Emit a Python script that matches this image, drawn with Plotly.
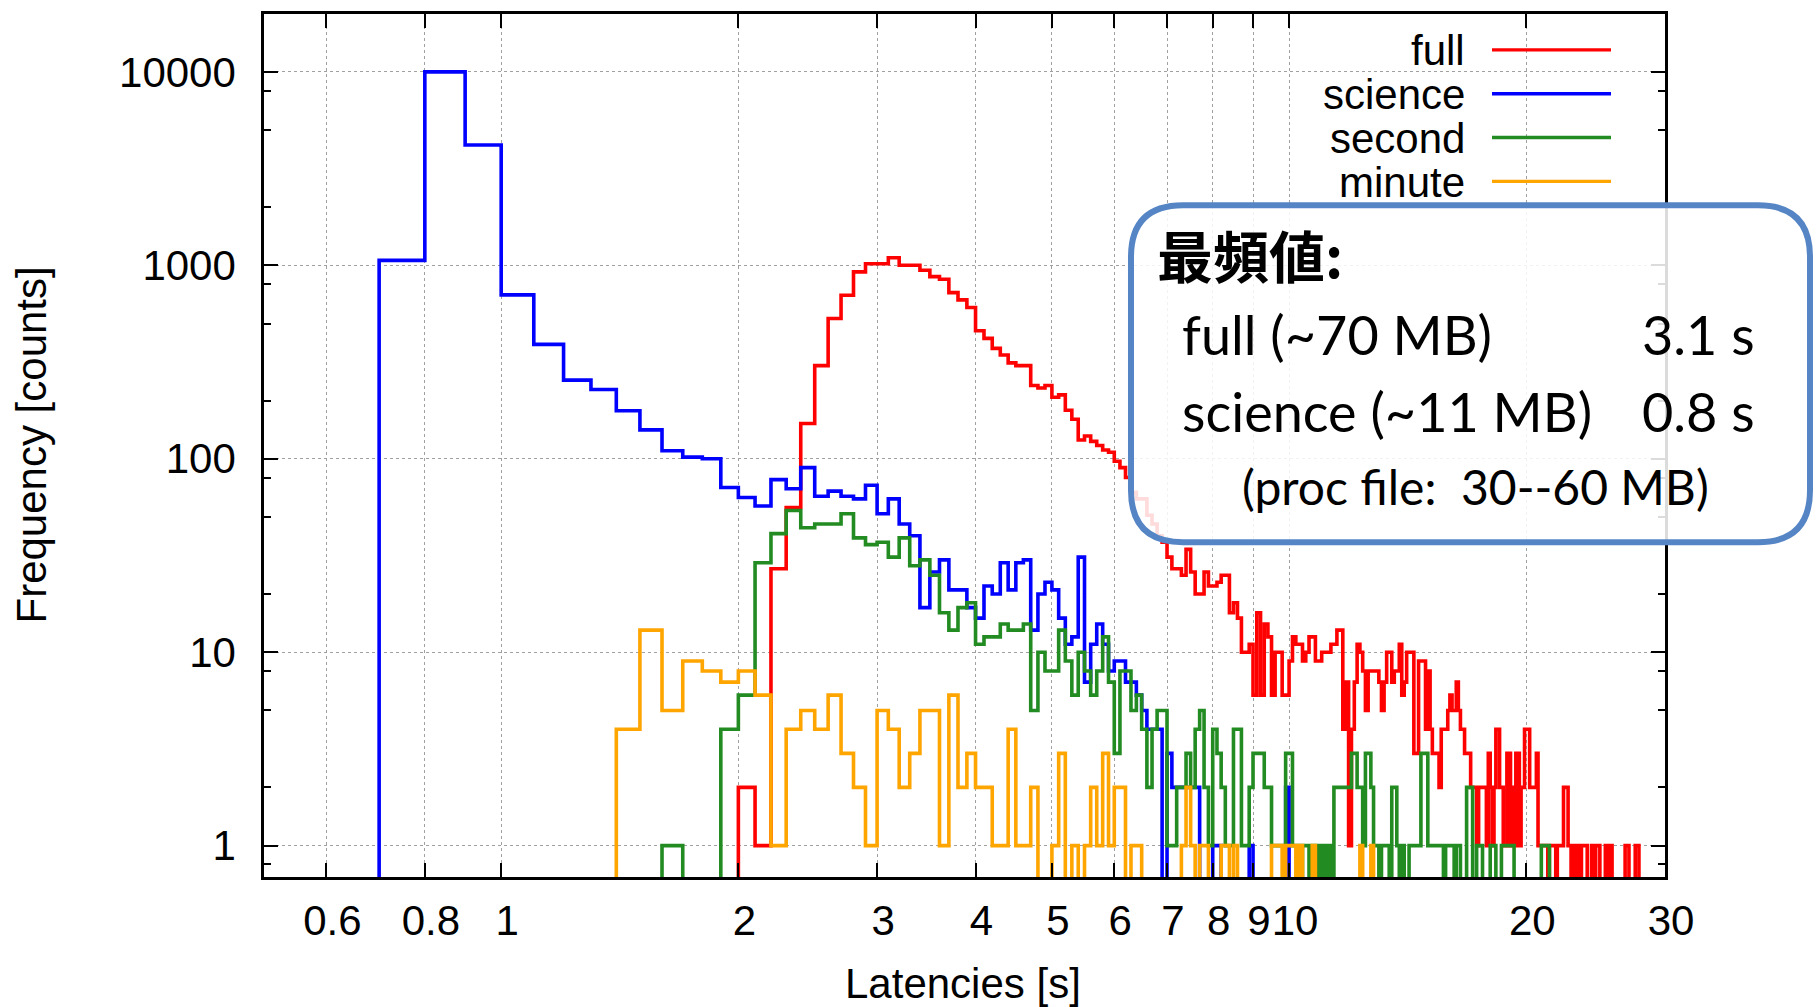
import numpy as np
import plotly.graph_objects as go

# ---------------- data (histogram, 0.1 s bins; value = count in bin starting at edge) ----------------
BIN_WIDTH = 0.1

full_start = 2.0
full_counts = [
    2, 1, 27, 56, 152, 303, 531, 700, 925, 1019,          # 2.0-2.9
    1019, 1094, 1000, 1000, 942, 874, 847, 722, 663, 605,  # 3.0-3.9
    459, 419, 372, 344, 313, 303, 303, 239, 232, 239,      # 4.0-4.9
    208, 214, 178, 160, 125, 131, 123, 117, 111, 108,      # 5.0-5.9
    97, 90, 80, 67, 62, 62, 51, 46, 40, 37,                # 6.0-6.9
    31, 27, 27, 25, 34, 26, 20, 20, 26, 22,                # 7.0-7.9
    22, 23, 25, 25, 16, 18, 15, 10, 10, 11,                # 8.0-8.9
    6, 16, 6, 14, 12, 6, 10, 10, 6, 6,                     # 9.0-9.9
    9, 12, 11, 11, 9, 10, 12, 12, 9, 9,                    # 10.0-10.9
    10, 10, 10, 11, 11, 13, 13, 4, 7, 1,                   # 11.0-11.9
    4, 7, 11, 10, 8, 5, 8, 8, 8, 8,                        # 12.0-12.9
    7, 5, 7, 10, 10, 7, 8, 8, 11, 6,                       # 13.0-13.9
    7, 10, 10, 10, 3, 3, 9, 9, 9, 4,                       # 14.0-14.9
    8, 4, 3, 3, 3, 2, 4, 4, 4, 5,                          # 15.0-15.9
    6, 5, 5, 7, 5, 4, 4, 3, 3, 3,                          # 16.0-16.9
    2, 2, 2, 1, 2, 2, 2, 2, 1, 3,                          # 17.0-17.9
    2, 1, 2, 4, 4, 2, 2, 1, 1, 3,                          # 18.0-18.9
    3, 1, 2, 1, 3, 3, 1, 2, 2, 4,                          # 19.0-19.9
    4, 4, 2, 2, 2, 2, 3, 1, 1, 1,                          # 20.0-20.9
    1, 1, 1, 0, 1, 1, 1, 1, 0, 1,                          # 21.0-21.9
    1, 1, 1, 2, 2, 2, 1, 1, 0, 1,                          # 22.0-22.9
    1, 0, 1, 1, 0, 1, 1, 1, 1, 0,                          # 23.0-23.9
    0, 0, 1, 1, 0, 1, 1, 1, 0, 0,                          # 24.0-24.9
    0, 0, 1, 1, 0, 1, 1, 0, 0, 0,                          # 25.0-25.9
    0, 0, 0, 0, 0, 0, 0, 1, 1, 1,                          # 26.0-26.9
    0, 0, 0, 0, 0, 1, 1, 1,                                # 27.0-27.7
]

science_start = 0.7
science_counts = [
    1060, 10000, 4190, 703, 390, 255, 228, 177, 141, 110,  # 0.7-1.6
    102, 100, 71, 63, 57, 78, 70, 90, 64, 68,              # 1.7-2.6
    64, 62, 73, 52, 62, 46, 40, 17, 26, 30,                # 2.7-3.6
    21, 21, 17, 15, 22, 20, 29, 21, 29, 30,                # 3.7-4.6
    13, 20, 23, 21, 15, 11, 12, 31, 7, 11,                 # 4.7-5.6
    14, 11, 8, 9, 9, 7, 7, 6, 5, 4,                        # 5.7-6.6
    4, 4, 0, 3, 2, 2, 2, 2, 2, 2,                          # 6.7-7.6
    0, 0, 0, 1, 1, 0, 0, 0, 0, 0,                          # 7.7-8.6
    0, 0, 1, 0, 0, 0, 0, 0, 0, 0,                          # 8.7-9.6
    0, 0, 2,                                               # 9.7-9.9
]

second_start = 1.6
second_counts = [
    1, 0, 0, 4, 6, 29, 41, 54, 44, 46,                     # 1.6-2.5
    46, 52, 39, 36, 37, 31, 39, 28, 30, 25,                # 2.6-3.5
    16, 13, 17, 18, 11, 12, 12, 14, 13, 13,                # 3.6-4.5
    14, 5, 10, 8, 8, 13, 9, 6, 10, 8,                      # 4.6-5.5
    6, 8, 12, 7, 3, 8, 8, 5, 6, 4,                         # 5.6-6.5
    2, 4, 5, 5, 1, 1, 2, 2, 3, 2,                          # 6.6-7.5
    4, 5, 2, 1, 4, 3, 2, 1, 1, 4,                          # 7.6-8.5
    4, 1, 1, 2, 3, 3, 3, 2, 2, 1,                          # 8.6-9.5
    1, 1, 1, 3, 3, 1, 1, 0, 1, 1,                          # 9.6-10.5
    0, 1, 1, 0, 1, 0, 1, 0, 2, 2,                          # 10.6-11.5
    2, 2, 2, 2, 3, 3, 2, 2, 1, 3,                          # 11.6-12.5
    3, 2, 1, 1, 0, 1, 1, 1, 0, 2,                          # 12.6-13.5
    2, 1, 0, 1, 0, 0, 1, 1, 1, 1,                          # 13.6-14.5
    1, 3, 3, 3, 1, 1, 1, 1, 1, 1,                          # 14.6-15.5
    1, 0, 1, 1, 1, 1, 0, 1, 1, 0,                          # 15.6-16.5
    0, 0, 2, 2, 2, 0, 0, 1, 1, 1,                          # 16.6-17.5
    0, 0, 0, 0, 1, 1, 1, 0, 0, 0,                          # 17.6-18.5
    1, 1, 1, 1, 1, 1, 1, 0, 0, 0,                          # 18.6-19.5
    0, 0, 0, 0, 0, 0, 0, 0, 0, 0,                          # 19.6-20.5
    0, 0, 0, 1, 1, 1, 1, 1,                                # 20.6-21.3
]

minute_start = 1.4
minute_counts = [
    4, 13, 5, 9, 8, 7, 8, 6, 1, 4,                         # 1.4-2.3
    5, 4, 6, 3, 2, 1, 5, 4, 2, 3,                          # 2.4-3.3
    5, 5, 1, 6, 2, 3, 2, 2, 1, 1,                          # 3.4-4.3
    4, 1, 1, 2, 0, 0, 1, 3, 0, 1,                          # 4.4-5.3
    0, 1, 2, 1, 3, 1, 2, 2, 0, 1,                          # 5.4-6.3
    1, 0, 0, 0, 0, 0, 0, 0, 0, 1,                          # 6.4-7.3
    2, 1, 0, 1, 1, 0, 0, 0, 1, 1,                          # 7.4-8.3
    0, 1, 0, 0, 0, 0, 0, 0, 0, 0,                          # 8.4-9.3
    0, 1, 1, 1, 0, 1, 1, 1, 0, 1,                          # 9.4-10.3
    0, 0, 0, 1, 0, 0, 0, 0, 0, 0,                          # 10.4-11.3
    0, 0, 0, 0, 0, 0, 0, 0, 0, 1,                          # 11.4-12.3
    0, 0, 0, 1,                                            # 12.4-12.7
]

series_names = ["full", "science", "second", "minute"]
series_colors = ["#ff0000", "#0000ff", "#228b22", "#ffa500"]
series_starts = [full_start, science_start, second_start, minute_start]
series_counts = [full_counts, science_counts, second_counts, minute_counts]

x_tick_vals = [0.6, 0.8, 1, 2, 3, 4, 5, 6, 7, 8, 9, 10, 20, 30]
x_tick_text = ["0.6", "0.8", "1", "2", "3", "4", "5", "6", "7", "8", "9", "10", "20", "30"]
y_tick_vals = [1, 10, 100, 1000, 10000]
y_tick_text = ["1", "10", "100", "1000", "10000"]
y_minor_vals = [0.8, 2, 5, 8, 20, 50, 80, 200, 500, 800, 2000, 5000, 8000]

box_title = "最頻値:"
box_rows = [("full (~70 MB)", "3.1 s"), ("science (~11 MB)", "0.8 s")]
box_note = "(proc file:\u00a0\u00a030--60 MB)"

# ---------------- layout geometry (pixels) ----------------
W, H = 1816, 1007
ML, MR, MT, MB = 264, 151, 11, 130
PW, PH = W - ML - MR, H - MT - MB
PB = MT + PH  # bottom pixel of plot area


def px_x(px):
    return (px - ML) / PW


def px_y(py):
    return (PB - py) / PH


FLOOR = 0.1  # below the visible log range -> zero bins drop off the axis

fig = go.Figure()
for name, color, start, counts in zip(series_names, series_colors, series_starts, series_counts):
    c = np.array(counts, dtype=float)
    c[c <= 0] = FLOOR
    edges = np.round(start + BIN_WIDTH * np.arange(len(c) + 1), 3)
    xs = np.concatenate([[edges[0]], edges[:-1], [edges[-1]]])
    ys = np.concatenate([[FLOOR], c, [FLOOR]])
    fig.add_trace(go.Scatter(x=xs, y=ys, mode="lines", name=name,
                             line=dict(color=color, width=3.6, shape="hv"),
                             showlegend=False, hoverinfo="skip"))

axis_font = dict(family="Liberation Sans, Arial, sans-serif", size=42, color="black")
common_axis = dict(type="log", showline=True, linecolor="black", linewidth=2.5, mirror="allticks",
                   ticks="inside", ticklen=14, tickwidth=2, tickcolor="black",
                   showgrid=True, gridcolor="#a0a0a0", gridwidth=1.3, griddash="dot",
                   zeroline=False, tickfont=axis_font)

fig.update_xaxes(range=[np.log10(0.5), np.log10(30)], tickmode="array", tickangle=0,
                 tickvals=x_tick_vals, ticktext=x_tick_text, ticklabelstandoff=5,
                 ticklabelshift=6, **common_axis)
fig.update_yaxes(range=[-0.162, 4.299], tickmode="array",
                 tickvals=y_tick_vals, ticktext=y_tick_text, ticklabelstandoff=17,
                 minor=dict(tickmode="array", tickvals=y_minor_vals, ticks="inside", ticklen=7,
                            tickwidth=2, tickcolor="black", showgrid=False),
                 **common_axis)

shapes = []
annotations = []

# axis titles
annotations.append(dict(text="Latencies [s]", x=px_x(963), y=px_y(984), xref="paper", yref="paper",
                        xanchor="center", yanchor="middle", showarrow=False, font=axis_font))
annotations.append(dict(text="Frequency [counts]", x=px_x(32), y=px_y(443), xref="paper", yref="paper",
                        xanchor="center", yanchor="middle", showarrow=False, textangle=-90, font=axis_font))

# legend (opaque key box, labels right-aligned, samples on the right)
shapes.append(dict(type="rect", xref="paper", yref="paper", x0=px_x(1282), x1=px_x(1650),
                   y0=px_y(200), y1=px_y(27), fillcolor="white", line=dict(width=0), layer="between"))
legend_rows_y = [47, 91, 135, 179]
for name, color, yc in zip(series_names, series_colors, legend_rows_y):
    annotations.append(dict(text=name, x=px_x(1467), y=px_y(yc + 1), xref="paper", yref="paper",
                            xanchor="right", yanchor="middle", showarrow=False, font=axis_font))
    shapes.append(dict(type="line", xref="paper", yref="paper", x0=px_x(1492), x1=px_x(1611),
                       y0=px_y(yc), y1=px_y(yc), line=dict(color=color, width=3.4), layer="above"))

# rounded annotation box
bx0, bx1, by0, by1, r = 1131, 1810, 203, 541, 52
pts = [
    ("M", bx0 + r, by0), ("L", bx1 - r, by0), ("Q", bx1, by0, bx1, by0 + r),
    ("L", bx1, by1 - r), ("Q", bx1, by1, bx1 - r, by1), ("L", bx0 + r, by1),
    ("Q", bx0, by1, bx0, by1 - r), ("L", bx0, by0 + r), ("Q", bx0, by0, bx0 + r, by0),
]
path = ""
for p in pts:
    cmd, coords = p[0], p[1:]
    pairs = [f"{px_x(coords[i]):.5f},{px_y(coords[i + 1]):.5f}" for i in range(0, len(coords), 2)]
    path += cmd + " " + " ".join(pairs) + " "
path += "Z"
shapes.append(dict(type="path", path=path, xref="paper", yref="paper",
                   fillcolor="rgba(255,255,255,0.86)", line=dict(color="#5585c5", width=6), layer="above"))

box_font = dict(family="Lato, 'Noto Sans', sans-serif", size=54, color="black")
note_font = dict(family="Lato, 'Noto Sans', sans-serif", size=48, color="black")
annotations.append(dict(text="<b>" + box_title + "</b>", x=px_x(1155), y=px_y(251), xref="paper", yref="paper",
                        xanchor="left", yanchor="middle", showarrow=False,
                        font=dict(family="Noto Sans CJK JP", size=56, color="black")))
for (label, value), yc in zip(box_rows, [333, 410]):
    annotations.append(dict(text=label, x=px_x(1180), y=px_y(yc), xref="paper", yref="paper",
                            xanchor="left", yanchor="middle", showarrow=False, font=box_font))
    annotations.append(dict(text=value, x=px_x(1757), y=px_y(yc), xref="paper", yref="paper",
                            xanchor="right", yanchor="middle", showarrow=False, font=box_font))
annotations.append(dict(text=box_note, x=px_x(1475), y=px_y(485), xref="paper", yref="paper",
                        xanchor="center", yanchor="middle", showarrow=False, font=note_font))

fig.update_layout(width=W, height=H, margin=dict(l=ML, r=MR, t=MT, b=MB, pad=0),
                  paper_bgcolor="white", plot_bgcolor="white",
                  shapes=shapes, annotations=annotations, showlegend=False)

fig.write_html("out.html", config={"displayModeBar": False},
               post_script="document.body.style.margin='0';document.body.style.overflow='hidden';")
